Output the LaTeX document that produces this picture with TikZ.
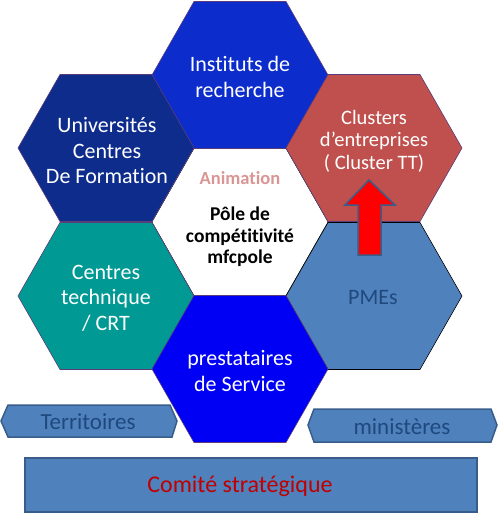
\documentclass[tikz,border=0pt]{standalone}
\usepackage{fontspec}
\setmainfont[Ligatures={NoCommon}]{Carlito}
\definecolor{cTop}{RGB}{12,44,204}
\definecolor{cUL}{RGB}{14,44,140}
\definecolor{cUR}{RGB}{192,80,77}
\definecolor{cLR}{RGB}{79,129,189}
\definecolor{cLL}{RGB}{0,153,148}
\definecolor{cBot}{RGB}{0,0,245}
\definecolor{cEdge}{RGB}{90,60,120}
\definecolor{cOut}{RGB}{56,93,138}
\definecolor{cDark}{RGB}{31,73,125}
\definecolor{cRedTxt}{RGB}{192,0,0}
\definecolor{cAnim}{RGB}{217,150,148}
\newcommand{\hexat}[3]{\filldraw[#3] ({#1-88},{#2}) -- ({#1-46},{#2-73.5}) -- ({#1+46},{#2-73.5}) -- ({#1+88},{#2}) -- ({#1+46},{#2+73.5}) -- ({#1-46},{#2+73.5}) -- cycle;}
\tikzset{
  hexfill/.style={fill=#1, draw=cEdge, line width=0.6pt},
  hextext/.style={align=center, text=white, font=\fontsize{22}{25.5}\selectfont, inner sep=0pt},
  banner/.style={fill=cLR, draw=cOut, line width=1.5pt},
}
\begin{document}
\begin{tikzpicture}[x=1pt,y=-1pt]
\useasboundingbox (0,0) rectangle (500,514);
% hexagons
\hexat{240}{222}{fill=white}
\hexat{240}{75}{hexfill=cTop}
\hexat{106}{148}{hexfill=cUL}
\hexat{106}{296}{hexfill=cLL}
\hexat{374}{296}{hexfill=cLR, draw=black}
\hexat{374}{148}{hexfill=cUR}
\hexat{240}{369}{hexfill=cBot}
% arrow
\filldraw[fill=red, draw=cOut, line width=1.5pt] (369,180) -- (395,205) -- (381,205) -- (381,255) -- (358,255) -- (358,205) -- (345,205) -- cycle;
% texts
\node[hextext] (inst) at (240,77) {Instituts de\\recherche};
\node[hextext] (univ) at (107,151) {Universités\\Centres\\De Formation};
\node[hextext, font=\fontsize{20.5}{22.5}\selectfont] (clus) at (374,141) {Clusters\\d’entreprises\\( Cluster TT)};
\node[inner sep=0pt, text=cAnim, font=\bfseries\fontsize{18.5}{20}\selectfont] (anim) at (240,178) {Animation};
\node[inner sep=0pt, align=center, font=\bfseries\fontsize{19.5}{21.5}\selectfont] (pole) at (240,237) {Pôle de\\compétitivité\\mfcpole};
\node[hextext] (ctech) at (106,298) {Centres\\technique\\/ CRT};
\node[inner sep=0pt, text=cDark, font=\fontsize{22}{26}\selectfont] (pme) at (373,298) {PMEs};
\node[hextext] (prest) at (240,371) {prestataires\\de Service};
% bottom banners
\filldraw[banner] (1,421) -- (8,405) -- (170,405) -- (177,421) -- (172,437) -- (8,437) -- cycle;
\filldraw[banner] (308,425) -- (314,409) -- (491,409) -- (497,425) -- (491,442) -- (314,442) -- cycle;
\filldraw[banner] (25,458) rectangle (477,512);
\node[inner sep=0pt, text=cDark, font=\fontsize{23}{27}\selectfont] (terr) at (88,422) {Territoires};
\node[inner sep=0pt, text=cDark, font=\fontsize{23}{27}\selectfont] (mini) at (402,427) {ministères};
\node[inner sep=0pt, text=cRedTxt, font=\fontsize{24}{27}\selectfont] (comite) at (240,486) {Comité stratégique};
\end{tikzpicture}
\end{document}
